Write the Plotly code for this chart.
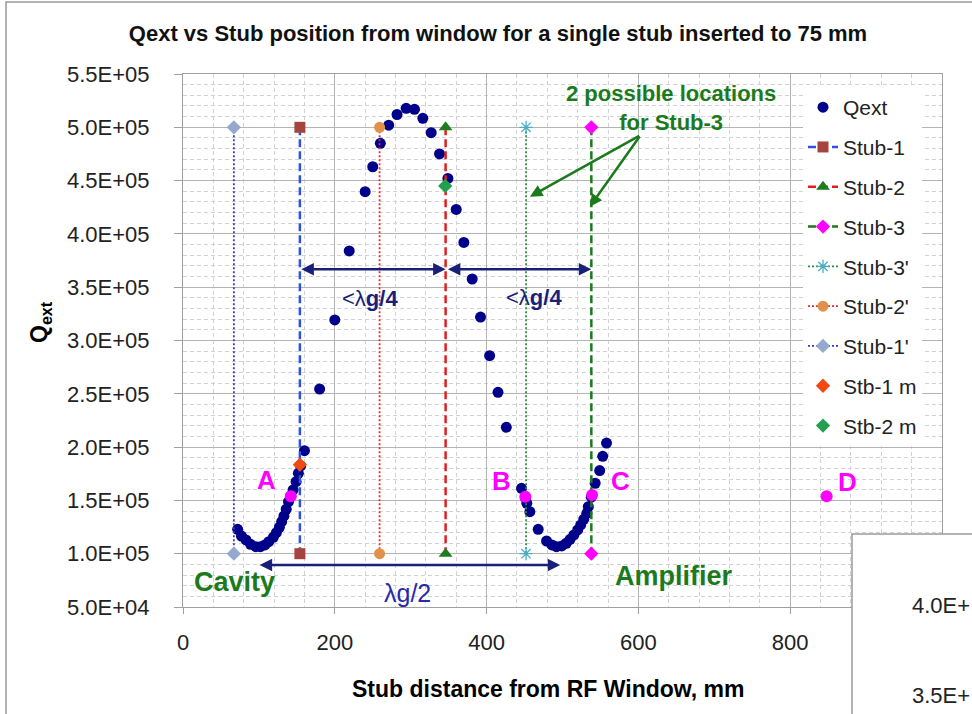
import plotly.graph_objects as go

# ---------------- data ----------------
qext_x = [72, 77, 83, 89, 96, 102, 108, 113, 119, 123, 127, 130, 133, 136, 139, 142, 145, 149, 152, 155, 160,
          180, 200, 219, 240, 250, 260, 271, 282, 294, 305, 316, 327, 338, 349, 360, 370, 381, 392, 404, 415, 426,
          446, 451, 453, 457, 468, 479, 486, 492, 499, 505, 510, 515, 520, 524, 528, 532, 534, 538, 543, 549, 553, 558]
qext_y = [122900, 116600, 112900, 108800, 106600, 106600, 108200, 111300, 115400, 119700, 124800, 130100, 135400,
          141700, 148800, 154200, 159800, 167600, 175400, 182300, 196600,
          254500, 319300, 384000, 439600, 463000, 485000, 502000, 512000, 517800, 516900, 508400, 495000, 475000,
          452000, 423000, 392000, 357700, 322000, 285800, 251400, 218600,
          161300, 152600, 147300, 139400, 122900, 111900, 108200, 106600, 107300, 109800, 113500, 117600, 122300,
          127000, 132300, 137900, 144100, 153000, 166100, 178000, 191300, 203800]

stub_names = ["Stub-1", "Stub-2", "Stub-3", "Stub-3'", "Stub-2'", "Stub-1'"]
stub_pos = [154, 346, 538, 452, 259, 67]
stub_top = 500000
stub_bottom = 100000

stb1m_x, stb1m_y = [154], [183500]
stb2m_x, stb2m_y = [345.5], [445000]

pts_x = [142, 451, 539, 848]          # A, B, C, D markers
pts_y = [154000, 153500, 155000, 154000]
pts_labels = ["A", "B", "C", "D"]
pts_label_x = [110, 420, 577, 875]
pts_label_y = [169000, 168000, 168000, 167500]

y_tickvals = [50000 * i for i in range(1, 12)]
y_ticktext = ["5.0E+04", "1.0E+05", "1.5E+05", "2.0E+05", "2.5E+05", "3.0E+05",
              "3.5E+05", "4.0E+05", "4.5E+05", "5.0E+05", "5.5E+05"]
x_tickvals = [0, 200, 400, 600, 800]
x_ticktext = ["0", "200", "400", "600", "800"]

# ---------------- styles ----------------
FONT = "Liberation Sans"
NAVY = "#1A1F7A"
GREEN = "#1B7A1B"
stub_styles = {
    "Stub-1": dict(line=dict(color="#3050E0", width=2.5, dash="8px,4px"),
                   marker=dict(symbol="square", size=11, color="#A5443F")),
    "Stub-2": dict(line=dict(color="#E02020", width=2.5, dash="8px,4px"),
                   marker=dict(symbol="triangle-up", size=12, color="#1E7B1E")),
    "Stub-3": dict(line=dict(color="#1A7A1A", width=2.5, dash="8px,4px"),
                   marker=dict(symbol="diamond", size=11, color="#FF00FF")),
    "Stub-3'": dict(line=dict(color="#2E8B3E", width=1.8, dash="2px,2px"),
                    marker=dict(symbol="asterisk-open", size=11, color="#4BACC6",
                                line=dict(color="#4BACC6", width=1.3))),
    "Stub-2'": dict(line=dict(color="#E03030", width=1.8, dash="2px,2px"),
                    marker=dict(symbol="circle", size=11, color="#E0914A")),
    "Stub-1'": dict(line=dict(color="#3A3AC8", width=1.8, dash="2px,2px"),
                    marker=dict(symbol="diamond", size=11, color="#95A9CF")),
}

fig = go.Figure()

fig.add_trace(go.Scatter(x=qext_x, y=qext_y, mode="markers", name="Qext", legendgroup="g0",
                         marker=dict(symbol="circle", size=11, color="#00008B")))

for i, (nm, xp) in enumerate(zip(stub_names, stub_pos)):
    st = stub_styles[nm]
    fig.add_trace(go.Scatter(x=[xp, xp], y=[stub_top, stub_bottom], mode="lines+markers", name=nm,
                             legendgroup="g%d" % (i + 1), line=st["line"], marker=st["marker"]))

fig.add_trace(go.Scatter(x=stb1m_x, y=stb1m_y, mode="markers", name="Stb-1 m", legendgroup="g7",
                         marker=dict(symbol="diamond", size=11, color="#F04A10")))
fig.add_trace(go.Scatter(x=stb2m_x, y=stb2m_y, mode="markers", name="Stb-2 m", legendgroup="g8",
                         marker=dict(symbol="diamond", size=11, color="#22A050")))
fig.add_trace(go.Scatter(x=pts_x, y=pts_y, mode="markers", showlegend=False,
                         marker=dict(symbol="circle", size=12, color="#FF00FF")))


def px_x(p):
    return (p - 183) / 759


def px_y(p):
    return (607 - p) / 533


ann = []
# letters
for lx, ly, t in zip(pts_label_x, pts_label_y, pts_labels):
    ann.append(dict(x=lx, y=ly, xref="x", yref="y", text="<b>%s</b>" % t, showarrow=False,
                    xanchor="center", yanchor="middle",
                    font=dict(family=FONT, size=26, color="#FF00FF")))


# double arrows
def darrow(x0, x1, y):
    return dict(x=x1, y=y, ax=x0, ay=y, xref="x", yref="y", axref="x", ayref="y", text="",
                showarrow=True, arrowhead=2, startarrowhead=2, arrowside="end+start",
                arrowsize=1, startarrowsize=1, arrowwidth=2.5, arrowcolor=NAVY, standoff=0, startstandoff=0)


ann.append(darrow(stub_pos[0], stub_pos[1], 366800))
ann.append(darrow(stub_pos[1] + 1, stub_pos[2], 366800))
ann.append(darrow(99, 497, 89400))

# green arrows
for ex, ey in [(457, 434900), (536, 425500)]:
    ann.append(dict(x=ex, y=ey, ax=603, ay=492800, xref="x", yref="y", axref="x", ayref="y", text="",
                    showarrow=True, arrowhead=2, arrowsize=1, arrowwidth=2.5, arrowcolor=GREEN,
                    standoff=0, startstandoff=0))

C = dict(xanchor="center", yanchor="middle", showarrow=False)
ann += [
    dict(x=246, y=339000, xref="x", yref="y", text="&lt;λ<b>g/4</b>",
         font=dict(family=FONT, size=22, color=NAVY), **C),
    dict(x=462, y=340800, xref="x", yref="y", text="&lt;λ<b>g/4</b>",
         font=dict(family=FONT, size=22, color=NAVY), **C),
    dict(x=296, y=63500, xref="x", yref="y", text="λg/2",
         font=dict(family=FONT, size=25, color="#2A2AA8"), **C),
    dict(x=68, y=73500, xref="x", yref="y", text="<b>Cavity</b>",
         font=dict(family=FONT, size=27, color=GREEN), **C),
    dict(x=647, y=79100, xref="x", yref="y", text="<b>Amplifier</b>",
         font=dict(family=FONT, size=27, color=GREEN), **C),
    dict(x=px_x(671), y=px_y(108), xref="paper", yref="paper",
         text="<b>2 possible locations<br>for Stub-3</b>",
         font=dict(family=FONT, size=22, color=GREEN), **C),
    # axis titles
    dict(x=px_x(40), y=px_y(322), xref="paper", yref="paper",
         text="<b>Q<sub>ext</sub></b>", textangle=-90,
         font=dict(family=FONT, size=23, color="#000000"), **C),
    dict(x=px_x(548), y=px_y(689), xref="paper", yref="paper",
         text="<b>Stub distance from RF Window, mm</b>",
         font=dict(family=FONT, size=23, color="#000000"), **C),
    # overlapping neighbour chart fragments
    dict(x=px_x(910), y=px_y(605), xref="paper", yref="paper", xanchor="left", yanchor="middle",
         text="4.0E+", showarrow=False, font=dict(family=FONT, size=22, color="#222222")),
    dict(x=px_x(910), y=px_y(695), xref="paper", yref="paper", xanchor="left", yanchor="middle",
         text="3.5E+", showarrow=False, font=dict(family=FONT, size=22, color="#222222")),
]

shapes = [
    dict(type="rect", xref="paper", yref="paper", x0=px_x(6), x1=px_x(995), y0=px_y(730), y1=px_y(2),
         line=dict(color="#9A9A9A", width=1.5), fillcolor="rgba(0,0,0,0)", layer="below"),
    dict(type="rect", xref="paper", yref="paper", x0=px_x(852), x1=px_x(995), y0=px_y(730), y1=px_y(534),
         line=dict(color="#9A9A9A", width=1.5), fillcolor="white", layer="above"),
]

fig.update_layout(
    width=972, height=714,
    margin=dict(l=183, r=30, t=74, b=107),
    paper_bgcolor="white", plot_bgcolor="white",
    font=dict(family=FONT, color="#222222"),
    title=dict(text="<b>Qext vs Stub position from window for a single stub inserted to 75 mm</b>",
               x=498 / 972, xanchor="center", y=1 - 33 / 714, yanchor="middle",
               xref="container", yref="container", font=dict(family=FONT, size=22, color="#111111")),
    legend=dict(x=px_x(803), y=px_y(87), xanchor="left", yanchor="top", bgcolor="white",
                font=dict(family=FONT, size=21, color="#222222"), tracegroupgap=9.5,
                itemwidth=30),
    annotations=ann,
    shapes=shapes,
    showlegend=True,
)

fig.update_xaxes(range=[0, 1000], tickmode="array", tickvals=x_tickvals, ticktext=x_ticktext,
                 showgrid=True, gridcolor="#B4B4B4", gridwidth=1, zeroline=False,
                 showline=True, linecolor="#A0A0A0", linewidth=1, mirror=True,
                 ticks="outside", ticklen=6, tickcolor="#A0A0A0", ticklabelstandoff=10,
                 tickfont=dict(family=FONT, size=22, color="#222222"),
                 minor=dict(tickmode="linear", tick0=0, dtick=40, showgrid=True,
                            gridcolor="#D2D2D2", griddash="4px,3px", gridwidth=1))
fig.update_yaxes(range=[50000, 550000], tickmode="array", tickvals=y_tickvals, ticktext=y_ticktext,
                 showgrid=True, gridcolor="#B4B4B4", gridwidth=1, zeroline=False,
                 showline=True, linecolor="#A0A0A0", linewidth=1, mirror=True,
                 ticks="outside", ticklen=8, tickcolor="#A0A0A0", ticklabelstandoff=20,
                 tickfont=dict(family=FONT, size=22, color="#222222"),
                 minor=dict(tickmode="linear", tick0=50000, dtick=10000, showgrid=True,
                            gridcolor="#D2D2D2", griddash="4px,3px", gridwidth=1))

fig.write_html("out.html")
